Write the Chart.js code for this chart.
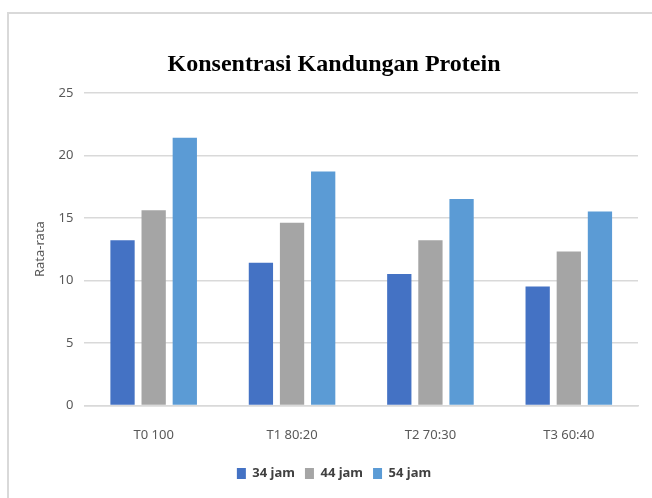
<!DOCTYPE html>
<html>
<head>
<meta charset="utf-8">
<script src="https://cdn.jsdelivr.net/npm/chart.js@4/dist/chart.umd.min.js"></script>
<style>
    body { margin: 0; background: #fff; }
    #wrap { position: relative; width: 652px; height: 498px; overflow: hidden; }
    #frame { position: absolute; left: 7px; top: 12px; width: 700px; height: 600px;
             border-left: 2px solid #d9d9d9; border-top: 2px solid #d9d9d9; }
    canvas { position: absolute; left: 0; top: 0; }
</style>
</head>
<body>
<div id="wrap">
    <div id="frame"></div>
    <canvas id="myChart" width="652" height="498"></canvas>
</div>
<script>
// data
let kategori = ['T0 100', 'T1 80:20', 'T2 70:30', 'T3 60:40'];
let jam34 = [13.2, 11.4, 10.5, 9.5];
let jam44 = [15.6, 14.6, 13.2, 12.3];
let jam54 = [21.4, 18.7, 16.5, 15.5];
let namaSeri = ['34 jam', '44 jam', '54 jam'];
let warna = ['#4472C4', '#A5A5A5', '#5B9BD5'];

var ctx = document.getElementById('myChart').getContext('2d');
var myChart = new Chart(ctx, {
    type: 'bar',
    data: {
        labels: kategori,
        datasets: [jam34, jam44, jam54].map((d, i) => ({
            label: namaSeri[i],
            data: d,
            backgroundColor: warna[i],
            borderWidth: 0,
            categoryPercentage: 0.675,
            barPercentage: 0.78
        }))
    },
    options: {
        responsive: false,
        animation: false,
        layout: { padding: { left: 30, right: 14, top: 0, bottom: 8 } },
        plugins: {
            title: {
                display: true,
                text: 'Konsentrasi Kandungan Protein',
                color: '#000',
                font: { family: 'Liberation Serif', size: 24, weight: 'bold' },
                padding: { top: 50, bottom: 14 }
            },
            legend: {
                position: 'bottom',
                labels: {
                    boxWidth: 9,
                    boxHeight: 11,
                    padding: 10,
                    color: '#404040',
                    font: { family: 'Noto Sans', size: 13, weight: 'bold' }
                }
            },
            tooltip: { enabled: false }
        },
        scales: {
            y: {
                min: 0,
                max: 25,
                ticks: {
                    stepSize: 5,
                    padding: 11,
                    color: '#595959',
                    font: { family: 'Noto Sans', size: 13 }
                },
                grid: { color: '#d9d9d9', lineWidth: 1.5, drawTicks: false },
                border: { display: false },
                title: {
                    display: true,
                    text: 'Rata-rata',
                    color: '#595959',
                    font: { family: 'Noto Sans', size: 13 },
                    padding: { top: 2, bottom: 0 }
                }
            },
            x: {
                ticks: {
                    padding: 14,
                    color: '#595959',
                    font: { family: 'Noto Sans', size: 13 }
                },
                grid: { display: false },
                border: { color: '#d9d9d9', width: 1.5 }
            }
        }
    }
});
</script>
</body>
</html>
